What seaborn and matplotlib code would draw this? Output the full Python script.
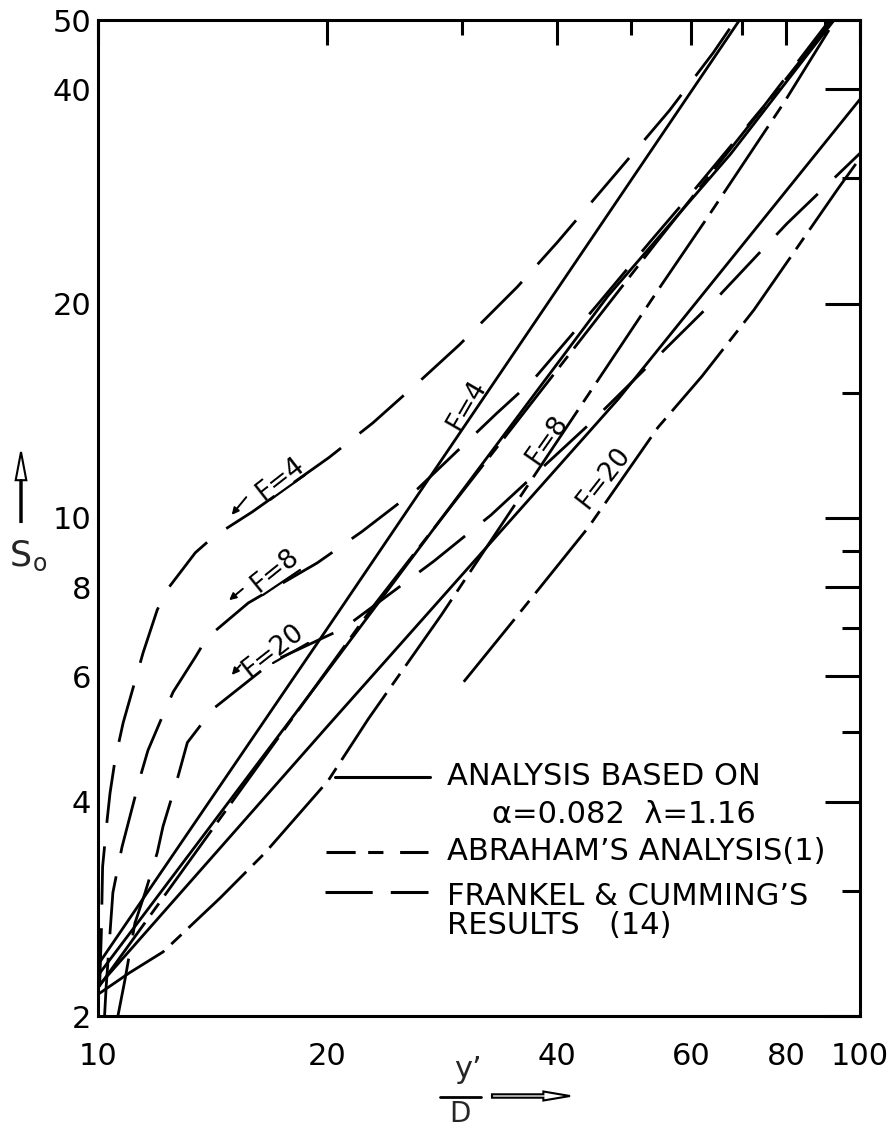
import numpy as np
import pandas as pd
import matplotlib
matplotlib.use("Agg")
import matplotlib.pyplot as plt
import seaborn as sns
from matplotlib.ticker import FixedLocator, NullFormatter, FixedFormatter
from matplotlib.lines import Line2D
from matplotlib.patches import FancyArrow

# ---------------- data ----------------
# Analysis based on alpha=0.082, lambda=1.16 (solid)
sol_f4_x = [10.0, 20.0, 40.0, 69.5]
sol_f4_s = [2.36, 7.0, 20.9, 50.0]
sol_f8_x = [10.0, 20.0, 46.7, 67.6, 92.5]
sol_f8_s = [2.28, 6.1, 20.5, 32.4, 50.0]
sol_f20_x = [10.0, 20.0, 48.2, 100.0]
sol_f20_s = [2.2, 5.1, 14.7, 38.7]

# Abraham's analysis (1) (dash-dot)
ab_f4_x = [10.0, 14.47, 23.0, 54.1, 91.8]
ab_f4_s = [2.19, 3.79, 7.53, 24.4, 49.8]
ab_f8_x = [9.97, 11.0, 12.17, 14.47, 16.57, 20.05, 22.65, 28.2, 54.5, 63.2, 79.5, 91.8]
ab_f8_s = [2.14, 2.30, 2.46, 2.93, 3.39, 4.28, 5.23, 7.3, 21.0, 26.5, 38.3, 49.1]
ab_f20_x = [30.2, 34.8, 44.0, 54.3, 62.0, 72.6, 93.6, 100.0]
ab_f20_s = [5.89, 7.1, 9.7, 13.4, 15.8, 19.6, 29.0, 32.0]

# Frankel & Cumming's results (14) (long dashes)
fr_f4_x = [10.05, 10.10, 10.14, 10.28, 10.37, 10.53, 10.79, 11.46, 11.96, 12.32, 13.42, 14.17,
           15.94, 20.1, 22.95, 26.5, 29.8, 35.5, 40.1, 47.9, 56.2, 64.2, 68.5]
fr_f4_s = [2.2, 2.6, 3.24, 3.77, 4.11, 4.58, 5.16, 6.47, 7.43, 7.93, 8.94, 9.41,
           10.2, 12.16, 13.6, 15.6, 17.5, 21.1, 24.4, 30.5, 37.3, 45.0, 49.8]
fr_f8_x = [10.2, 10.25, 10.46, 10.75, 11.36, 11.63, 12.17, 12.55, 13.42, 13.9, 15.75, 19.4,
           22.2, 26.3, 33.3, 37.2, 45.0, 53.0, 60.0, 75.0, 91.0]
fr_f8_s = [2.0, 2.2, 2.98, 3.45, 4.33, 4.72, 5.29, 5.70, 6.38, 6.79, 7.6, 8.65,
           9.57, 11.0, 14.0, 15.6, 19.8, 24.4, 28.5, 38.0, 49.8]
fr_f20_x = [10.62, 10.85, 11.18, 11.53, 11.96, 12.17, 12.70, 13.1, 14.17, 17.0, 21.0, 27.6,
            32.8, 44.0, 65.3, 80.2, 100.0]
fr_f20_s = [2.0, 2.25, 2.70, 2.98, 3.39, 3.69, 4.29, 4.84, 5.4, 6.3, 7.0, 8.7,
            10.1, 13.5, 20.5, 25.9, 32.5]

x_major = [10, 20, 40, 60, 80, 100]
x_minor = [30, 50, 70, 90]
x_labels = ["10", "20", "40", "60", "80", "100"]
y_major = [2, 4, 6, 8, 10, 20, 40, 50]
y_minor = [3, 5, 7, 9, 15, 30]
y_labels = ["2", "4", "6", "8", "10", "20", "40", "50"]

curves = [
    ("Analysis", "F=4", sol_f4_x, sol_f4_s),
    ("Analysis", "F=8", sol_f8_x, sol_f8_s),
    ("Analysis", "F=20", sol_f20_x, sol_f20_s),
    ("Abraham", "F=4", ab_f4_x, ab_f4_s),
    ("Abraham", "F=8", ab_f8_x, ab_f8_s),
    ("Abraham", "F=20", ab_f20_x, ab_f20_s),
    ("Frankel", "F=4", fr_f4_x, fr_f4_s),
    ("Frankel", "F=8", fr_f8_x, fr_f8_s),
    ("Frankel", "F=20", fr_f20_x, fr_f20_s),
]
rows = []
for method, f, xs, ss in curves:
    for i, (xv, sv) in enumerate(zip(xs, ss)):
        rows.append({"method": method, "curve": method + " " + f, "x": xv, "S": sv, "order": i})
df = pd.DataFrame(rows)

# ---------------- style ----------------
sns.set_theme(style="white")
plt.rcParams["font.family"] = ["DejaVu Sans"]
plt.rcParams["lines.scale_dashes"] = False
plt.rcParams["mathtext.fontset"] = "dejavusans"

fig = plt.figure(figsize=(8.88, 11.28), dpi=100)
ax = fig.add_axes([98 / 888, 1 - 1016 / 1128, 762 / 888, 996 / 1128])

dash_styles = {"Analysis": "", "Abraham": (58, 7, 10, 7), "Frankel": (42, 17)}
sns.lineplot(data=df, x="x", y="S", units="curve", style="method", dashes=dash_styles,
             estimator=None, sort=False, color="black", lw=2.0, legend=False, ax=ax)

ax.set_xscale("log")
ax.set_yscale("log")
ax.set_xlim(10, 100)
ax.set_ylim(2, 50)

ax.xaxis.set_major_locator(FixedLocator(x_major))
ax.xaxis.set_major_formatter(FixedFormatter(x_labels))
ax.xaxis.set_minor_locator(FixedLocator(x_minor))
ax.xaxis.set_minor_formatter(NullFormatter())
ax.yaxis.set_major_locator(FixedLocator(y_major))
ax.yaxis.set_major_formatter(FixedFormatter(y_labels))
ax.yaxis.set_minor_locator(FixedLocator(y_minor))
ax.yaxis.set_minor_formatter(NullFormatter())

ax.tick_params(axis="both", which="both", direction="in", top=True, right=True,
               colors="black", width=2.2, labelsize=22)
ax.tick_params(axis="x", which="major", length=18, pad=19)
ax.tick_params(axis="x", which="minor", length=11)
ax.tick_params(axis="y", which="major", length=25, pad=5)
ax.tick_params(axis="y", which="minor", length=13)
for sp in ax.spines.values():
    sp.set_color("black")
    sp.set_linewidth(2.2)
ax.set_xlabel("")
ax.set_ylabel("")
ax.grid(False)

# ---------------- legend (drawn) ----------------
tr = ax.transAxes
ax.add_line(Line2D([0.311, 0.436], [0.240, 0.240], transform=tr, color="black", lw=2.2))
ax.add_line(Line2D([0.299, 0.433], [0.165, 0.165], transform=tr, color="black", lw=2.2,
                   dashes=(21, 9, 11, 12)))
ax.add_line(Line2D([0.298, 0.433], [0.1245, 0.1245], transform=tr, color="black", lw=2.2,
                   dashes=(34, 13)))
tk = dict(transform=tr, fontsize=22, ha="left", color="black")
ax.text(0.458, 0.240, "ANALYSIS BASED ON", va="center", **tk)
ax.text(0.517, 0.202, "α=0.082  λ=1.16", va="center", **tk)
ax.text(0.458, 0.165, "ABRAHAM’S ANALYSIS(1)", va="center", **tk)
ax.text(0.458, 0.1345, "FRANKEL & CUMMING’S\nRESULTS   (14)", va="top", linespacing=0.98, **tk)

# ---------------- curve labels ----------------
lk = dict(transform=tr, fontsize=19, ha="center", va="center", color="black")
ax.text(0.2388, 0.5390, "F=4", rotation=38, **lk)
ax.text(0.2323, 0.4470, "F=8", rotation=39, **lk)
ax.text(0.2297, 0.3670, "F=20", rotation=38, **lk)
ax.text(0.484, 0.613, "F=4", rotation=60, **lk)
ax.text(0.590, 0.578, "F=8", rotation=55, **lk)
ax.text(0.663, 0.540, "F=20", rotation=52, **lk)
# underlines and pointers of the hand-lettered labels
for (x0, y0, x1, y1) in [(0.2257, 0.5181, 0.2717, 0.5432),
                         (0.2165, 0.4227, 0.2651, 0.4478),
                         (0.2297, 0.3544, 0.2756, 0.3745)]:
    ax.add_line(Line2D([x0, x1], [y0, y1], transform=tr, color="black", lw=1.6))
arr = dict(arrowstyle="-|>", color="black", lw=1.4, mutation_scale=10)
ax.annotate("", xy=(0.1732, 0.5010), xytext=(0.1969, 0.5231), xycoords=tr, textcoords=tr, arrowprops=arr)
ax.annotate("", xy=(0.1693, 0.4157), xytext=(0.1929, 0.4307), xycoords=tr, textcoords=tr, arrowprops=arr)
ax.annotate("", xy=(0.1732, 0.3403), xytext=(0.1890, 0.3544), xycoords=tr, textcoords=tr, arrowprops=arr)

# ---------------- axis titles ----------------
fig.text(21 / 888, 1 - 556 / 1128, "S", fontsize=25, ha="center", va="center")
fig.text(40 / 888, 1 - 564 / 1128, "o", fontsize=17, ha="center", va="center")
fig.patches.append(FancyArrow(21 / 888, 1 - 522 / 1128, 0, 70 / 1128,
                   width=0.0015, head_width=0.012, head_length=0.025, length_includes_head=True,
                   transform=fig.transFigure, figure=fig, color="black", fill=False, lw=1.5))
fig.text(468 / 888, 1 - 1070 / 1128, "y’", fontsize=22, ha="center", va="center")
fig.lines.append(Line2D([440 / 888, 481 / 888], [1 - 1097 / 1128, 1 - 1097 / 1128],
                        transform=fig.transFigure, color="black", lw=2))
fig.text(460 / 888, 1 - 1114 / 1128, "D", fontsize=20, ha="center", va="center")
fig.patches.append(FancyArrow(492 / 888, 1 - 1096 / 1128, 78 / 888, 0,
                   width=0.003, head_width=0.008, head_length=0.03, length_includes_head=True,
                   transform=fig.transFigure, figure=fig, color="black", fill=False, lw=1.5))

fig.savefig("out.png", dpi=100, facecolor="white")
